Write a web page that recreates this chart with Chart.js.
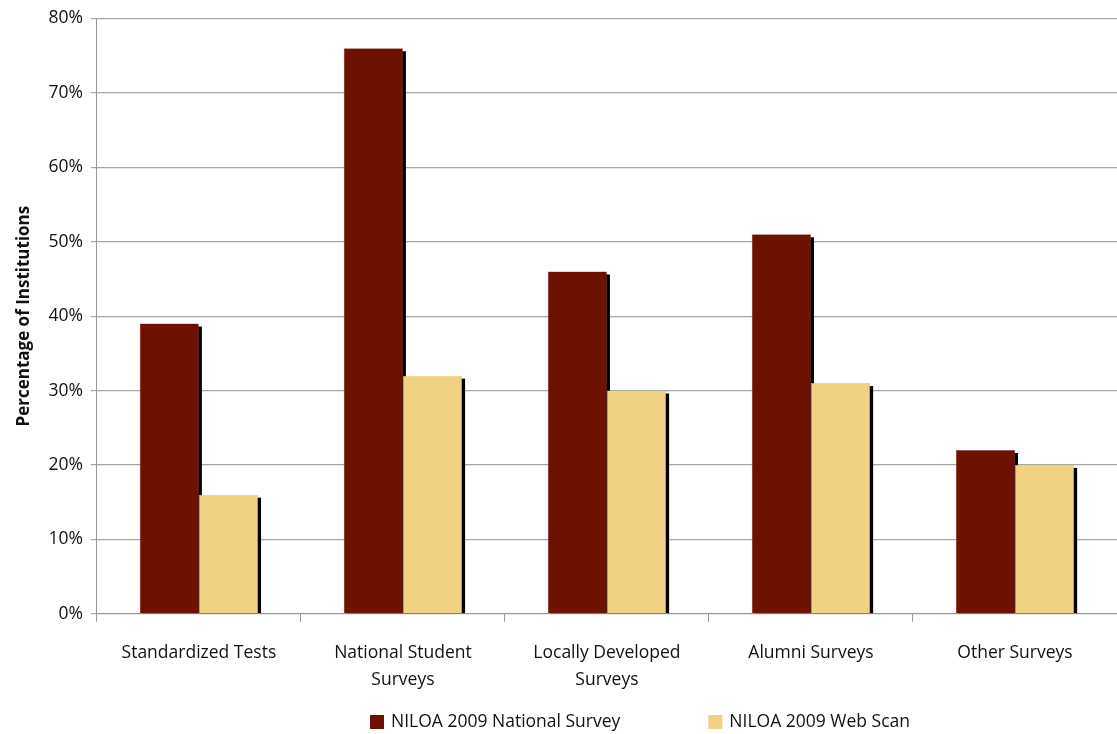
<!DOCTYPE html>
<html>
<head>
<meta charset="utf-8">
<script src="https://cdn.jsdelivr.net/npm/chart.js@4"></script>
<style>
  html, body { margin: 0; padding: 0; background: #fff; }
  #wrap { width: 1117px; height: 734px; }
</style>
</head>
<body>
<div id="wrap"><canvas id="barChart"></canvas></div>
<script>
let categories = ["Standardized Tests", ["National Student", "Surveys"], ["Locally Developed", "Surveys"], "Alumni Surveys", "Other Surveys"]
let nationalSurvey = [39, 76, 46, 51, 22]
let webScan = [16, 32, 30, 31, 20]
let yTicks = [0, 10, 20, 30, 40, 50, 60, 70, 80]

let FONT = "'Open Sans', 'DejaVu Sans', sans-serif"
Chart.defaults.font.family = FONT
Chart.defaults.font.size = 17.5
Chart.defaults.color = "#111"

// black drop shadow on the right/bottom of each bar, drawn before the bars
let barShadow = {
    id: "barShadow",
    beforeDatasetsDraw(chart) {
        let ctx = chart.ctx
        ctx.save()
        ctx.fillStyle = "#000"
        chart.data.datasets.forEach((ds, i) => {
            chart.getDatasetMeta(i).data.forEach(bar => {
                let left = bar.x - bar.width / 2
                ctx.fillRect(left + 3, bar.y + 3, bar.width, bar.base - bar.y - 3)
            })
        })
        ctx.restore()
    }
}

// legend spaced like the original
let wideLegend = {
    id: "wideLegend",
    afterDraw(chart) {
        let ctx = chart.ctx
        ctx.save()
        ctx.font = "17.5px " + FONT
        ctx.textBaseline = "middle"
        let box = 14, gap = 7, between = 88
        let items = chart.data.datasets.map(ds => ({ text: ds.label, color: ds.backgroundColor }))
        let total = 0
        items.forEach((it, i) => {
            it.w = box + gap + ctx.measureText(it.text).width
            total += it.w + (i ? between : 0)
        })
        let x = 640 - total / 2
        let y = 722
        items.forEach(it => {
            ctx.fillStyle = it.color
            ctx.fillRect(x, y - box / 2, box, box)
            ctx.fillStyle = "#111"
            ctx.fillText(it.text, x + box + gap, y)
            x += it.w + between
        })
        ctx.restore()
    }
}

let CHART = document.getElementById("barChart")
let barChart = new Chart(CHART, {
    type: "bar",
    data: {
        labels: categories,
        datasets: [
            {
                label: "NILOA 2009 National Survey",
                data: nationalSurvey,
                backgroundColor: "#6E1200",
                borderColor: "#8a5a50",
                borderWidth: 0.5,
                barPercentage: 1.0,
                categoryPercentage: 0.58
            },
            {
                label: "NILOA 2009 Web Scan",
                data: webScan,
                backgroundColor: "#F0D282",
                borderColor: "#d8bd78",
                borderWidth: 0.5,
                barPercentage: 1.0,
                categoryPercentage: 0.58
            }
        ]
    },
    options: {
        responsive: true,
        maintainAspectRatio: false,
        animation: false,
        layout: { padding: { top: 9, right: 0, left: 10, bottom: 22 } },
        plugins: {
            tooltip: { enabled: false },
            legend: { display: false }
        },
        scales: {
            x: {
                grid: {
                    display: true,
                    drawOnChartArea: false,
                    offset: true,
                    tickLength: 8,
                    color: "#999"
                },
                border: { color: "#999" },
                ticks: { padding: 18, maxRotation: 0, font: { size: 17.5, lineHeight: 1.55 } }
            },
            y: {
                min: 0,
                max: 80,
                afterBuildTicks(axis) {
                    axis.ticks = yTicks.map(v => ({ value: v }))
                },
                grid: { color: "#a6a6a6", lineWidth: 1.2, tickLength: 6 },
                border: { color: "#999" },
                ticks: {
                    padding: 8,
                    font: { size: 17.5 },
                    callback: v => v + "%"
                },
                title: {
                    display: true,
                    text: "Percentage of Institutions",
                    font: { size: 17, weight: "bold" },
                    padding: { bottom: 6 }
                }
            }
        }
    },
    plugins: [barShadow, wideLegend]
})
</script>
</body>
</html>
